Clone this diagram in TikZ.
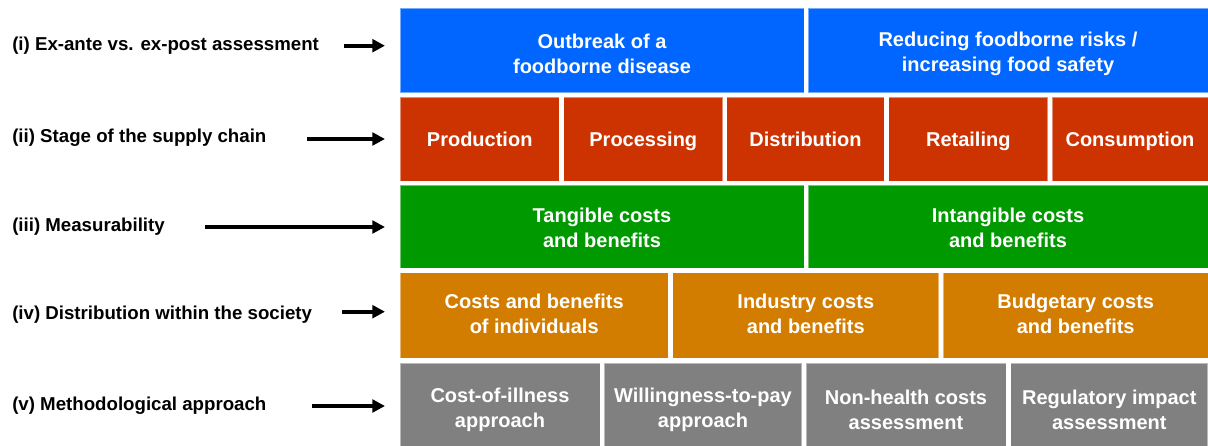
\documentclass[tikz,border=0pt]{standalone}
\usepackage{fontspec}
\setmainfont{Liberation Sans}
\usetikzlibrary{arrows.meta}
\definecolor{cblue}{HTML}{0066FF}
\definecolor{cred}{HTML}{CC3300}
\definecolor{cgreen}{HTML}{009900}
\definecolor{corange}{HTML}{D27C00}
\definecolor{cgray}{HTML}{808080}
\tikzset{
  bx/.style={draw=white, draw opacity=0.45, line width=0.75pt, inner sep=0pt},
  tx/.style={text=white, align=center, inner sep=0pt, font=\fontsize{15}{18.75}\selectfont\bfseries},
  tx1/.style={tx, text height=10.75pt, text depth=0pt},
  lbl/.style={anchor=base west, inner sep=0pt, text=black, font=\fontsize{14}{16}\selectfont\bfseries},
  arr/.style={line width=2.7pt, -{Triangle[length=9.5pt,width=9.5pt]}}
}
\begin{document}
\begin{tikzpicture}[x=0.75pt,y=-0.75pt]
\useasboundingbox[fill=white] (0,0) rectangle (1208,446);
% row 1
\node[bx, fill=cblue, minimum width=303pt, minimum height=63.4pt,
  label={[tx, yshift=-2.25pt]center:Outbreak of a\\foodborne disease}] (b11) at (602,50.5) {};
\node[bx, fill=cblue, minimum width=300pt, minimum height=63.4pt,
  label={[tx, yshift=-2.25pt]center:Reducing foodborne risks /\\increasing food safety}] (b12) at (1008,50.5) {};
% row 2
\node[bx, fill=cred, minimum width=119.5pt, minimum height=63pt, label={[tx1]center:Production}] (b21) at (479.7,139) {};
\node[bx, fill=cred, minimum width=119pt, minimum height=63pt, label={[tx1]center:Processing}] (b22) at (643.3,139) {};
\node[bx, fill=cred, minimum width=118.2pt, minimum height=63pt, label={[tx1]center:Distribution}] (b23) at (805.5,139) {};
\node[bx, fill=cred, minimum width=119pt, minimum height=63pt, label={[tx1]center:Retailing}] (b24) at (968.3,139) {};
\node[bx, fill=cred, minimum width=117pt, minimum height=63pt, label={[tx1]center:Consumption}] (b25) at (1130,139) {};
% row 3
\node[bx, fill=cgreen, minimum width=303pt, minimum height=62.5pt,
  label={[tx, yshift=-1.1pt]center:Tangible costs\\and benefits}] (b31) at (602,226.7) {};
\node[bx, fill=cgreen, minimum width=300pt, minimum height=62.5pt,
  label={[tx, yshift=-1.1pt]center:Intangible costs\\and benefits}] (b32) at (1008,226.7) {};
% row 4
\node[bx, fill=corange, minimum width=201.2pt, minimum height=64.2pt,
  label={[tx, yshift=1.1pt]center:Costs and benefits\\of individuals}] (b41) at (534.2,315.5) {};
\node[bx, fill=corange, minimum width=199.7pt, minimum height=64.2pt,
  label={[tx, yshift=1.1pt]center:Industry costs\\and benefits}] (b42) at (805.8,315.5) {};
\node[bx, fill=corange, minimum width=198.5pt, minimum height=64.2pt,
  label={[tx, yshift=1.1pt]center:Budgetary costs\\and benefits}] (b43) at (1075.7,315.5) {};
% row 5
\node[bx, fill=cgray, minimum width=150pt, minimum height=66pt,
  label={[tx, yshift=-1.9pt]center:Cost-of-illness\\approach}] (b51) at (500,407.3) {};
\node[bx, fill=cgray, minimum width=148pt, minimum height=66pt,
  label={[tx, yshift=-1.9pt]center:Willingness-to-pay\\approach}] (b52) at (703,407.3) {};
\node[bx, fill=cgray, minimum width=150pt, minimum height=66pt,
  label={[tx, yshift=-1.9pt]center:Non-health costs\\assessment}] (b53) at (906,407.3) {};
\node[bx, fill=cgray, minimum width=148pt, minimum height=66pt,
  label={[tx, yshift=-1.9pt]center:Regulatory impact\\assessment}] (b54) at (1109.3,407.3) {};
% labels
\node[lbl] (l1) at (12,50.7) {(i) Ex-ante vs. ex-post assessment};
\node[lbl] (l2) at (12,142.7) {(ii) Stage of the supply chain};
\node[lbl] (l3) at (12,231.7) {(iii) Measurability};
\node[lbl] (l4) at (12,319.3) {(iv) Distribution within the society};
\node[lbl] (l5) at (12,410) {(v) Methodological approach};
% arrow coordinates
\coordinate (s1) at (344,45.7); \coordinate (e1) at (385,45.7);
\coordinate (s2) at (306.7,139); \coordinate (e2) at (385,139);
\coordinate (s3) at (205,227); \coordinate (e3) at (385,227);
\coordinate (s4) at (342,311.7); \coordinate (e4) at (385,311.7);
\coordinate (s5) at (312,406); \coordinate (e5) at (385,406);
\draw[arr] (s1) -- (e1);
\draw[arr] (s2) -- (e2);
\draw[arr] (s3) -- (e3);
\draw[arr] (s4) -- (e4);
\draw[arr] (s5) -- (e5);
\end{tikzpicture}
\end{document}
